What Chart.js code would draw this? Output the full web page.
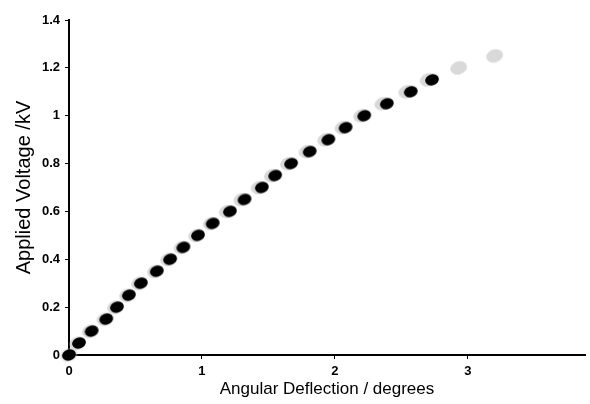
<!DOCTYPE html>
<html>
<head>
<meta charset="utf-8">
<script src="https://cdn.jsdelivr.net/npm/chart.js@4.4.1/dist/chart.umd.min.js"></script>
<style>
  body { margin: 0; background: #fff; }
</style>
</head>
<body>
<canvas id="chart" width="590" height="404"></canvas>
<script>
// deflection (degrees) vs applied voltage (kV)
var blackX = [0, 0.075, 0.17, 0.28, 0.36, 0.45, 0.54, 0.66, 0.76, 0.86, 0.97, 1.08,
              1.21, 1.32, 1.45, 1.55, 1.67, 1.81, 1.95, 2.08, 2.22, 2.39, 2.57, 2.73];
var blackY = [0, 0.05, 0.1, 0.15, 0.2, 0.25, 0.3, 0.35, 0.4, 0.45, 0.5, 0.55,
              0.6, 0.65, 0.7, 0.75, 0.8, 0.85, 0.9, 0.95, 1.0, 1.05, 1.1, 1.15];
// faded repeat run (grey), reaching a little higher
var greyX = [0, 0.065, 0.16, 0.27, 0.35, 0.44, 0.53, 0.65, 0.75, 0.85, 0.96, 1.07,
             1.19, 1.30, 1.43, 1.53, 1.65, 1.79, 1.93, 2.06, 2.20, 2.36, 2.54, 2.70, 2.93, 3.2];
var greyY = [0, 0.05, 0.1, 0.15, 0.2, 0.25, 0.3, 0.35, 0.4, 0.45, 0.5, 0.55,
             0.6, 0.65, 0.7, 0.75, 0.8, 0.85, 0.9, 0.95, 1.0, 1.05, 1.1, 1.15, 1.2, 1.25];
var xTicks = [0, 1, 2, 3];
var yTicks = [0, 0.2, 0.4, 0.6, 0.8, 1, 1.2, 1.4];

function ellipse(w, h, color) {
    var c = document.createElement('canvas');
    c.width = w + 4; c.height = w + 4;
    var g = c.getContext('2d');
    g.fillStyle = color;
    g.beginPath();
    g.ellipse(c.width / 2, c.height / 2, w / 2, h / 2, -0.3, 0, Math.PI * 2);
    g.fill();
    return c;
}

function pts(xs, ys) {
    return xs.map(function (x, i) { return { x: x, y: ys[i] }; });
}

var tickFont = { family: 'Liberation Sans, Arial, sans-serif', size: 13, weight: 'bold' };
var fmt = function (v) { return String(+v.toFixed(1)); };

new Chart(document.getElementById('chart').getContext('2d'), {
    type: 'scatter',
    data: {
        datasets: [
            {
                data: pts(blackX, blackY),
                pointStyle: ellipse(14, 11, '#000'),
                clip: false,
                order: 1
            },
            {
                data: pts(greyX, greyY),
                pointStyle: ellipse(17, 13, 'rgba(180,180,180,0.5)'),
                clip: false,
                order: 2
            }
        ]
    },
    options: {
        responsive: false,
        animation: false,
        layout: { padding: { left: 8, top: 20, right: 2, bottom: 0 } },
        plugins: { legend: { display: false }, tooltip: { enabled: false } },
        scales: {
            x: {
                type: 'linear',
                min: 0, max: 3.88,
                afterFit: function (s) { s.height = 49; },
                afterBuildTicks: function (s) { s.ticks = xTicks.map(function (v) { return { value: v }; }); },
                border: { color: '#000', width: 2 },
                grid: { drawOnChartArea: false, color: '#000', tickLength: 4 },
                ticks: { color: '#000', font: tickFont, padding: 5, callback: fmt, includeBounds: false },
                title: { display: true, text: 'Angular Deflection / degrees', color: '#000',
                         font: { family: 'Liberation Sans, Arial, sans-serif', size: 17 },
                         padding: { top: 0, bottom: 4 } }
            },
            y: {
                type: 'linear',
                min: 0, max: 1.4,
                afterFit: function (s) { s.width = 61; },
                afterBuildTicks: function (s) { s.ticks = yTicks.map(function (v) { return { value: v }; }); },
                border: { color: '#000', width: 2 },
                grid: { drawOnChartArea: false, color: '#000', tickLength: 4 },
                ticks: { color: '#000', font: tickFont, padding: 5, callback: fmt },
                title: { display: true, text: 'Applied Voltage /kV', color: '#000',
                         font: { family: 'Liberation Sans, Arial, sans-serif', size: 20 },
                         padding: 4 }
            }
        }
    }
});
</script>
</body>
</html>
